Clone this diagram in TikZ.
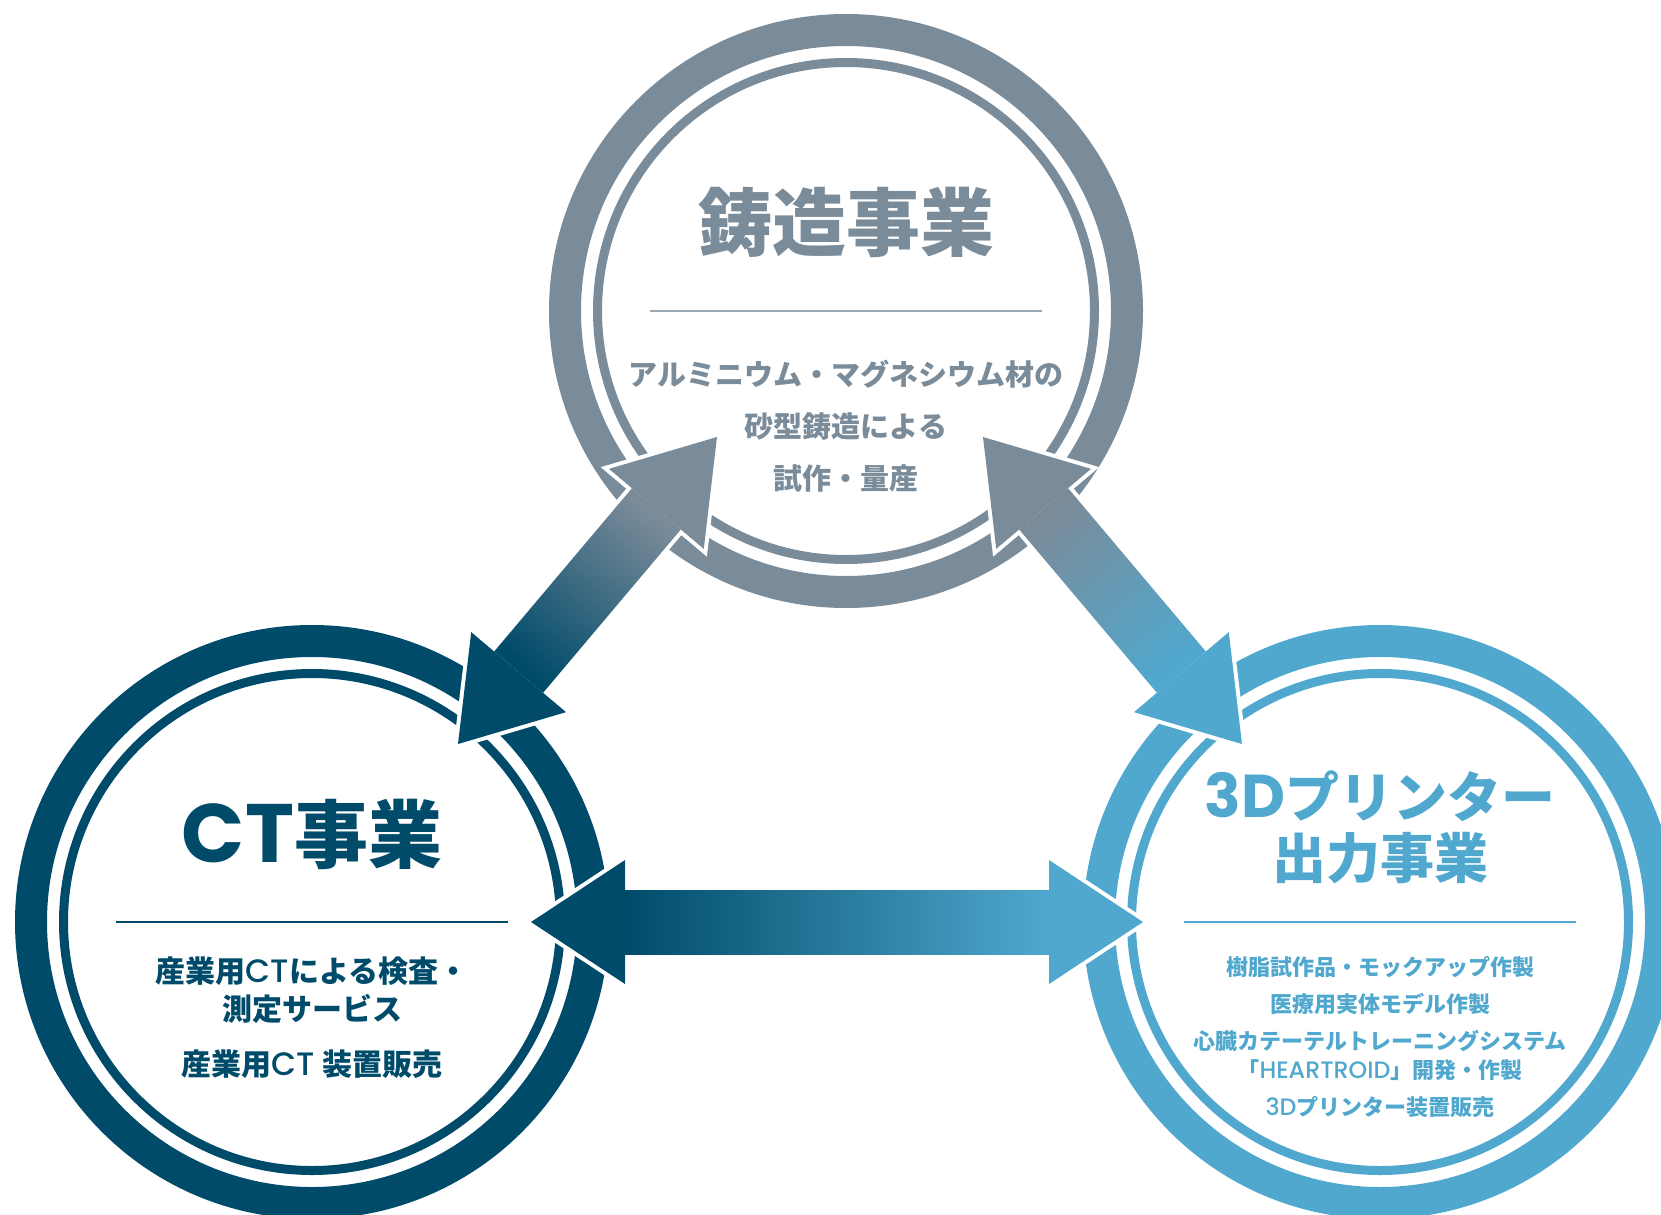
\documentclass[tikz,border=0pt]{standalone}
\usepackage{fontspec}
\usetikzlibrary{calc}
\newfontfamily\jpfont{Noto Sans CJK JP}
\newfontfamily\latfont{Poppins}[Scale=1.12]
\newfontfamily\latmed{Poppins Medium}[Scale=1.08,BoldFont={Poppins Medium}]
\definecolor{castgray}{HTML}{7A8B99}
\definecolor{castline}{HTML}{98A7B3}
\definecolor{ctblue}{HTML}{004B6A}
\definecolor{prblue}{HTML}{50A8CE}

\begin{document}
\begin{tikzpicture}[x=0.5pt,y=-0.5pt]
	\tikzstyle{ring}=[line width=16pt]
	\tikzstyle{thinring}=[line width=4.5pt]
	\tikzstyle{rule}=[line width=1pt]
	\tikzstyle{title}=[align=center,font=\jpfont\bfseries\fontsize{37pt}{44pt}\selectfont]
	\tikzstyle{body}=[align=center]
	\tikzstyle{cut}=[draw=white,fill=white,line width=4pt]
	\clip (0,0) rectangle (1661,1215);

	\coordinate (cast) at (846,311);
	\coordinate (ct)   at (312,922);
	\coordinate (pr)   at (1380,922);

	\coordinate (castL) at (717,437);
	\coordinate (ctT)   at (458,744);
	\coordinate (castR) at (983,437);
	\coordinate (prT)   at (1242,744);
	\coordinate (ctR)   at (531,922);
	\coordinate (prL)   at (1143,922);

	% rings and rules
	\foreach \n/\col/\rl in {cast/castgray/castline, ct/ctblue/ctblue, pr/prblue/prblue} {
		\draw[ring,\col] (\n) circle[radius=281];
		\draw[thinring,\col] (\n) circle[radius=248.5];
		\draw[rule,\rl] ($(\n)+(-196,0)$) -- ($(\n)+(196,0)$);
	}

	% block arrows
	\foreach \ta/\tb/\ca/\cb/\ang in {castL/ctT/castgray/ctblue/139.8, castR/prT/castgray/prblue/-139.8, ctR/prL/ctblue/prblue/-90} {
		\path[cut] (\ta)
			-- ($(\ta)!47pt!(\tb)!31pt!90:(\tb)$) -- ($(\ta)!47pt!(\tb)!16pt!90:(\tb)$)
			-- ($(\tb)!47pt!(\ta)!16pt!-90:(\ta)$) -- ($(\tb)!47pt!(\ta)!31pt!-90:(\ta)$)
			-- (\tb)
			-- ($(\tb)!47pt!(\ta)!31pt!90:(\ta)$) -- ($(\tb)!47pt!(\ta)!16pt!90:(\ta)$)
			-- ($(\ta)!47pt!(\tb)!16pt!-90:(\tb)$) -- ($(\ta)!47pt!(\tb)!31pt!-90:(\tb)$)
			-- cycle;
		\shade[top color=\cb,bottom color=\ca,shading angle=\ang]
			($(\ta)!47pt!(\tb)!16pt!90:(\tb)$) -- ($(\tb)!47pt!(\ta)!16pt!-90:(\ta)$)
			-- ($(\tb)!47pt!(\ta)!16pt!90:(\ta)$) -- ($(\ta)!47pt!(\tb)!16pt!-90:(\tb)$) -- cycle;
		\fill[\ca] (\ta) -- ($(\ta)!47pt!(\tb)!31pt!90:(\tb)$) -- ($(\ta)!47pt!(\tb)!31pt!-90:(\tb)$) -- cycle;
		\fill[\cb] (\tb) -- ($(\tb)!47pt!(\ta)!31pt!-90:(\ta)$) -- ($(\tb)!47pt!(\ta)!31pt!90:(\ta)$) -- cycle;
	}

	% texts
	\node[title,castgray] (cast-title) at ($(cast)+(0,-89)$) {鋳造事業};
	\node[body,castgray,font=\jpfont\bfseries\fontsize{14.5pt}{26pt}\selectfont] (cast-text) at ($(cast)+(0,115)$)
		{アルミニウム・マグネシウム材の\\砂型鋳造による\\試作・量産};

	\node[title,ctblue] (ct-title) at ($(ct)+(0,-88)$) {{\latfont CT}事業};
	\node[body,ctblue,font=\jpfont\bfseries\fontsize{15pt}{19pt}\selectfont] (ct-text) at ($(ct)+(0,96)$)
		{産業用{\latmed CT}による検査・\\測定サービス\\[8.5pt]産業用{\latmed CT} 装置販売};

	\node[title,prblue,font=\jpfont\bfseries\fontsize{27pt}{30.5pt}\selectfont] (pr-title) at ($(pr)+(0,-94.5)$)
		{{\latfont 3D}プリンター\\出力事業};
	\node[body,prblue,font=\jpfont\bfseries\fontsize{11pt}{18.5pt}\selectfont] (pr-text) at ($(pr)+(0,115)$)
		{樹脂試作品・モックアップ作製\\医療用実体モデル作製\\心臓カテーテルトレーニングシステム\\[-4pt]「{\latmed HEARTROID}」開発・作製\\{\latmed 3D}プリンター装置販売};
\end{tikzpicture}
\end{document}
